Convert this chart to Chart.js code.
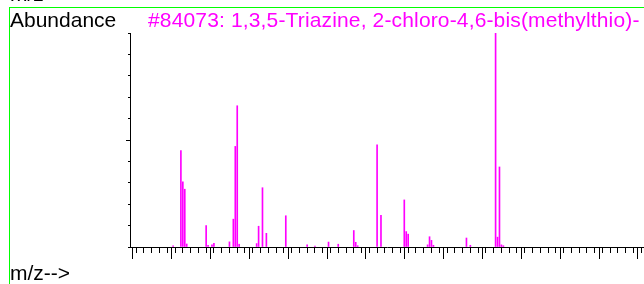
<!DOCTYPE html>
<html>
<head>
<meta charset="utf-8">
<script src="https://cdn.jsdelivr.net/npm/chart.js@4/dist/chart.umd.min.js"></script>
<style>
  html, body { margin: 0; padding: 0; background: #fff; overflow: hidden; }
  #wrap { position: relative; width: 644px; height: 284px; }
  #chart { position: absolute; left: 0; top: 0; }
  .txt { position: absolute; font-family: "Liberation Sans", Arial, sans-serif; font-size: 21px; line-height: 21px; white-space: nowrap; }
  .frame-top { position: absolute; left: 9px; top: 7px; width: 635px; height: 1px; background: #00ff00; }
  .frame-left { position: absolute; left: 9px; top: 7px; width: 1px; height: 277px; background: #00ff00; }
</style>
</head>
<body>
<div id="wrap">
  <canvas id="chart" width="644" height="284"></canvas>
  <div class="frame-top"></div>
  <div class="frame-left"></div>
  <div class="txt" style="left:10px; top:-17px; color:#000;">m/z--&gt;</div>
  <div class="txt" style="left:10px; top:9px; color:#000;">Abundance</div>
  <div class="txt" style="left:148px; top:9px; color:#ff00ff; letter-spacing:0.15px;">#84073: 1,3,5-Triazine, 2-chloro-4,6-bis(methylthio)-</div>
  <div class="txt" style="left:10px; top:262px; color:#000;">m/z--&gt;</div>
</div>
<script>
// spectrum peaks (m/z, relative abundance in %)
const mz = [41, 45, 46, 47, 48, 58, 59, 61, 62, 70, 72, 73, 74, 75, 84, 85, 87, 89, 99,
  110, 114, 121, 126, 134, 135, 136, 146, 148, 160, 161, 162, 172, 173, 174, 175,
  192, 194, 207, 208, 209, 210, 211];
const abundance = [0.5, 45, 30.4, 27, 1.4, 10, 0.8, 1, 1.7, 2.4, 13, 47, 66, 1.3, 1.6, 9.7, 27.7, 6.4, 14.6,
  1, 0.4, 2.3, 1.3, 7.7, 2.2, 0.6, 47.7, 14.8, 22, 7.2, 6, 1, 4.8, 3.1, 0.8,
  4.2, 0.8, 100, 4.6, 37.4, 1, 0.6];

// axis settings
const mzMin = 18.8;
const mzMax = 283.4;
const minorStep = 4;
const majorStep = 20;
const yMajorTicks = [50];

// long tick marks drawn on top of the axes
const longTicks = {
  id: 'longTicks',
  afterDraw(chart) {
    const { ctx, scales: { x, y } } = chart;
    ctx.save();
    ctx.strokeStyle = '#000';
    ctx.lineWidth = 1;
    ctx.beginPath();
    for (let v = Math.ceil(mzMin / majorStep) * majorStep; v <= mzMax; v += majorStep) {
      const px = Math.round(x.getPixelForValue(v)) + 0.5;
      ctx.moveTo(px, y.bottom);
      ctx.lineTo(px, y.bottom + 12);
    }
    yMajorTicks.forEach(v => {
      const py = Math.round(y.getPixelForValue(v)) + 0.5;
      ctx.moveTo(x.left - 4, py);
      ctx.lineTo(x.left, py);
    });
    ctx.stroke();
    ctx.restore();
  }
};

new Chart(document.getElementById('chart'), {
  type: 'bar',
  data: {
    datasets: [{
      data: mz.map((m, i) => ({ x: m, y: abundance[i] })),
      backgroundColor: '#ff00ff',
      borderWidth: 0,
      barThickness: 1
    }]
  },
  options: {
    responsive: false,
    animation: false,
    devicePixelRatio: 1,
    layout: { padding: { left: 128, top: 33, right: 0, bottom: 31 } },
    plugins: { legend: { display: false }, tooltip: { enabled: false } },
    scales: {
      x: {
        type: 'linear',
        min: mzMin,
        max: mzMax,
        offset: false,
        ticks: { display: false, stepSize: minorStep, includeBounds: false },
        grid: { drawOnChartArea: false, drawTicks: true, tickLength: 6, color: '#000' },
        border: { display: true, color: '#000', width: 1 }
      },
      y: {
        min: 0,
        max: 100,
        ticks: { display: false, stepSize: 10 },
        grid: { drawOnChartArea: false, drawTicks: true, tickLength: 2, color: '#000' },
        border: { display: true, color: '#000', width: 1 }
      }
    }
  },
  plugins: [longTicks]
});
</script>
</body>
</html>
